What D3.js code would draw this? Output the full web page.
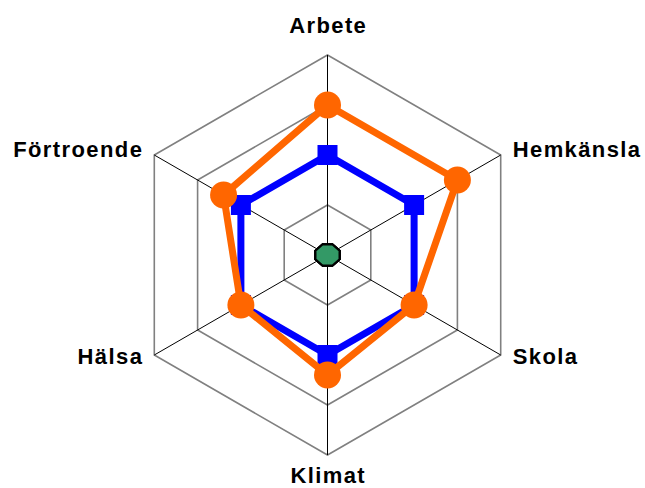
<!DOCTYPE html>
<html lang="sv">
<head>
<meta charset="UTF-8">
<title>Radar</title>
<script src="https://d3js.org/d3.v7.min.js"></script>
<style>
  html, body { margin: 0; padding: 0; background: #fff; }
  svg { display: block; }
  .label { font-family: "Liberation Sans", Arial, sans-serif; font-weight: bold; font-size: 22px; letter-spacing: 1.4px; fill: #000; }
</style>
</head>
<body>
<script>
// data
const categories = ["Arbete", "Hemkänsla", "Skola", "Klimat", "Hälsa", "Förtroende"];
const ringValues = [1, 2, 3, 4];
const blueValues = [2, 2, 2, 2, 2, 2];
const orangeValues = [3, 3, 2, 2.4, 2, 2.4];
const greenValues = [0, 0, 0, 0, 0, 0];

const width = 645, height = 488;
const cx = 327.5, cy = 255;
const maxR = 200;

const svg = d3.select("body").append("svg")
    .attr("width", width)
    .attr("height", height);

const g = svg.append("g").attr("transform", `translate(${cx},${cy})`);

const r = d3.scaleLinear().domain([0, 4]).range([0, maxR]);
const angle = d3.scalePoint().domain(categories).range([0, 2 * Math.PI * 5 / 6]);

function pt(cat, v) {
    const a = angle(cat);
    return [Math.sin(a) * r(v), -Math.cos(a) * r(v)];
}

// grid rings
const ringLine = d3.lineRadial()
    .angle(d => angle(d.cat))
    .radius(d => r(d.v))
    .curve(d3.curveLinearClosed);

g.selectAll(".ring")
    .data(ringValues)
    .enter().append("path")
    .attr("class", "ring")
    .attr("d", v => ringLine(categories.map(c => ({cat: c, v: v}))))
    .attr("fill", "none")
    .attr("stroke", "#808080")
    .attr("stroke-width", 1.6);

// spokes
g.selectAll(".spoke")
    .data(categories)
    .enter().append("line")
    .attr("class", "spoke")
    .attr("x1", 0).attr("y1", 0)
    .attr("x2", c => pt(c, 4)[0])
    .attr("y2", c => pt(c, 4)[1])
    .attr("stroke", "#000")
    .attr("stroke-width", 1);

// labels
g.selectAll(".label")
    .data(categories)
    .enter().append("text")
    .attr("class", "label")
    .each(function(c) {
        const [x, y] = pt(c, 4);
        const ux = x / maxR, uy = y / maxR;
        const t = d3.select(this).text(c);
        if (Math.abs(ux) < 0.01) {
            t.attr("x", x + 0.7).attr("y", uy < 0 ? y - 22 : y + 27.5).attr("text-anchor", "middle");
        } else {
            t.attr("x", ux > 0 ? x + 12 : x - 11)
             .attr("y", y + 5.5 + 7 * uy)
             .attr("text-anchor", ux > 0 ? "start" : "end");
        }
    });

function drawSeries(values, color, marker) {
    const data = categories.map((c, i) => ({cat: c, v: values[i]}));
    g.append("path")
        .attr("d", ringLine(data))
        .attr("fill", "none")
        .attr("stroke", color)
        .attr("stroke-width", 7)
        .attr("stroke-linejoin", "round");
    g.selectAll(null)
        .data(data)
        .enter().append("path")
        .attr("transform", d => `translate(${pt(d.cat, d.v)})`)
        .attr("d", marker)
        .attr("fill", color);
}

drawSeries(blueValues, "#0000ff", d3.symbol().type(d3.symbolSquare).size(400)());
drawSeries(orangeValues, "#ff6600", d3.symbol().type(d3.symbolCircle).size(Math.PI * 13.5 * 13.5)());

// green series: collapsed at the centre, octagon markers
const octagon = d3.range(8).map(k => {
    const a = Math.PI / 8 + k * Math.PI / 4;
    return [13 * Math.cos(a), 11.3 * Math.sin(a)];
});
const greenData = categories.map((c, i) => ({cat: c, v: greenValues[i]}));
g.selectAll(".green")
    .data(greenData)
    .enter().append("path")
    .attr("class", "green")
    .attr("transform", d => `translate(${pt(d.cat, d.v)})`)
    .attr("d", "M" + octagon.join("L") + "Z")
    .attr("fill", "#339966")
    .attr("stroke", "#000")
    .attr("stroke-width", 2);
</script>
</body>
</html>
